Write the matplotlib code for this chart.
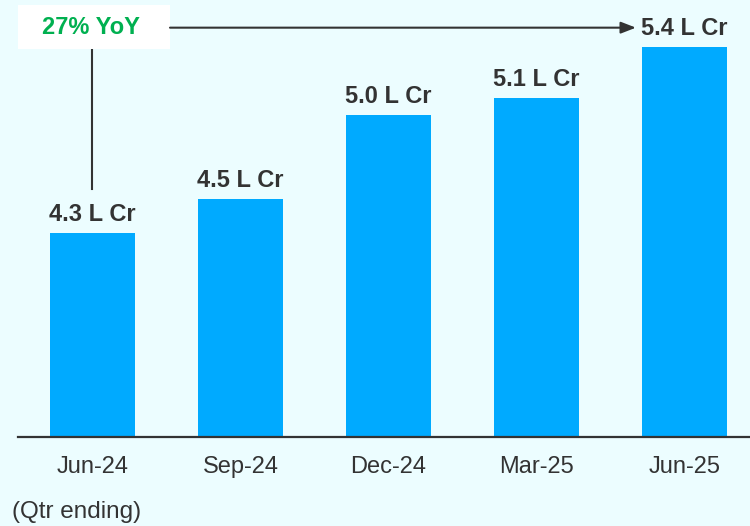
import numpy as np
import matplotlib.pyplot as plt
from matplotlib.patches import Rectangle

# data
quarters = ["Jun-24", "Sep-24", "Dec-24", "Mar-25", "Jun-25"]
values = [4.3, 4.5, 5.0, 5.1, 5.4]
value_labels = ["4.3 L Cr", "4.5 L Cr", "5.0 L Cr", "5.1 L Cr", "5.4 L Cr"]
growth_label = "27% YoY"

BG = "#ECFDFF"
BAR = "#00AAFF"
TXT = "#333333"
GREEN = "#00B050"

plt.rcParams["font.family"] = ["Liberation Sans", "DejaVu Sans"]

fig = plt.figure(figsize=(7.5, 5.26), dpi=100, facecolor=BG)
ax = fig.add_axes([0.024, 0.1692, 0.976, 0.8308])
ax.set_facecolor(BG)

x = np.arange(len(quarters))
ax.bar(x, values, width=0.574, color=BAR)

ymin, ymax = 3.09, 5.68
ax.set_ylim(ymin, ymax)
ax.set_xlim(-0.503, 4.443)

# value labels above bars
for xi, v, lab in zip(x, values, value_labels):
    ax.text(xi, v + 0.04, lab, ha="center", va="bottom", fontsize=17,
            fontweight="bold", color=TXT)

# axis styling
for s in ["top", "right", "left"]:
    ax.spines[s].set_visible(False)
ax.spines["bottom"].set_color(TXT)
ax.spines["bottom"].set_linewidth(1.6)
ax.set_yticks([])
ax.set_xticks(x)
ax.set_xticklabels(quarters, fontsize=17, color=TXT)
ax.tick_params(axis="x", length=0, pad=14)

# YoY annotation: white box, connector down to first bar, arrow to last bar
y_arrow = 5.516
ax.add_patch(Rectangle((-0.544, 5.392), 1.068, 0.26, facecolor="white",
                       edgecolor="none", zorder=3))
ax.text(-0.01, y_arrow, growth_label, ha="center", va="center", fontsize=17,
        fontweight="bold", color=GREEN, zorder=4)
ax.plot([0, 0], [5.392, values[0] + 0.26], color=TXT, lw=1.5)
ax.annotate("", xy=(3.672, y_arrow), xytext=(0.524, y_arrow),
            arrowprops=dict(arrowstyle="-|>,head_length=0.9,head_width=0.35",
                            color=TXT, lw=1.5, shrinkA=0, shrinkB=0))

fig.text(0.016, 0.026, "(Qtr ending)", fontsize=17.5, color=TXT, ha="left", va="center")

fig.savefig("out.png", dpi=100, facecolor=BG)
